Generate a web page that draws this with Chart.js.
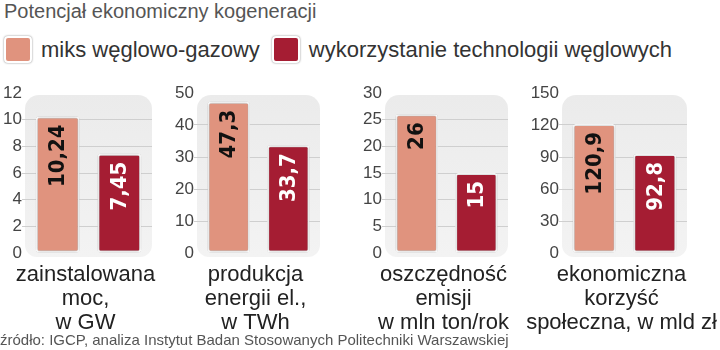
<!DOCTYPE html>
<html lang="pl">

<head>
    <meta charset="UTF-8">
    <title>Potencjał ekonomiczny kogeneracji</title>
    <style>
        body {
            margin: 0;
            padding: 0;
            width: 720px;
            height: 350px;
            overflow: hidden;
            position: relative;
            background: #fff;
            font-family: 'Liberation Sans', Arial, sans-serif;
        }

        .title {
            position: absolute;
            left: 4px;
            top: 0px;
            font-size: 20px;
            color: #555;
        }

        .legend {
            position: absolute;
            left: 4px;
            top: 36px;
            font-size: 22px;
            color: #333;
            display: flex;
            align-items: center;
        }

        .legend span.box {
            display: inline-block;
            width: 24px;
            height: 23px;
            border-radius: 4px;
            border: 2px solid #fff;
            box-shadow: 0 0 2px rgba(0, 0, 0, 0.5);
            margin-right: 9px;
        }

        .legend span.txt {
            margin-right: 12px;
        }

        .panel {
            position: absolute;
            top: 80px;
            height: 265px;
        }

        .source {
            position: absolute;
            left: 0;
            top: 331px;
            font-size: 15px;
            color: #555;
        }
    </style>
    <script src="https://cdn.jsdelivr.net/npm/chart.js"></script>
</head>

<body>
    <div class="title">Potencjał ekonomiczny kogeneracji</div>
    <div class="legend">
        <span class="box" style="background:#e0937e"></span><span class="txt">miks węglowo-gazowy</span>
        <span class="box" style="background:#a51d33"></span><span class="txt">wykorzystanie technologii węglowych</span>
    </div>

    <div class="panel" style="left:0px;width:165px"><canvas id="c0"></canvas></div>
    <div class="panel" style="left:167px;width:178px"><canvas id="c1"></canvas></div>
    <div class="panel" style="left:355px;width:175px"><canvas id="c2"></canvas></div>
    <div class="panel" style="left:527px;width:193px"><canvas id="c3"></canvas></div>

    <div class="source">źródło: IGCP, analiza Instytut Badan Stosowanych Politechniki Warszawskiej</div>

    <script>
        // data
        const seriesNames = ['miks węglowo-gazowy', 'wykorzystanie technologii węglowych'];
        const categories = [
            ['zainstalowana', 'moc,', 'w GW'],
            ['produkcja', 'energii el.,', 'w TWh'],
            ['oszczędność', 'emisji', 'w mln ton/rok'],
            ['ekonomiczna', 'korzyść', 'społeczna, w mld zł']
        ];
        const mixValues = [10.24, 47.3, 26, 120.9];
        const coalValues = [7.45, 33.7, 15, 92.8];
        const axisMax = [12, 50, 30, 150];
        const axisStep = [2, 10, 5, 30];

        const colors = ['#e0937e', '#a51d33'];
        const labelColors = ['#111', '#fff'];
        const axisWidths = [25, 30, 30, 35];
        const rightPads = [13, 25, 22, 33];

        const fmt = v => String(v).replace('.', ',');

        // rounded grey background behind each plot
        const panelBg = {
            id: 'panelBg',
            beforeDraw(chart) {
                const a = chart.chartArea;
                const ctx = chart.ctx;
                const top = a.top + 2, bottom = a.bottom + 4;
                const g = ctx.createLinearGradient(0, top, 0, bottom);
                g.addColorStop(0, '#ebebeb');
                g.addColorStop(1, '#f3f3f3');
                ctx.save();
                ctx.fillStyle = g;
                ctx.beginPath();
                ctx.roundRect(a.left, top, a.right - a.left, bottom - top, [14, 14, 12, 12]);
                ctx.fill();
                ctx.restore();
            }
        };

        // soft shadow around bars
        const barShadow = {
            id: 'barShadow',
            beforeDatasetsDraw(chart) {
                chart.ctx.save();
                chart.ctx.shadowColor = 'rgba(0,0,0,0.35)';
                chart.ctx.shadowBlur = 3;
            },
            afterDatasetsDraw(chart) {
                chart.ctx.restore();
            }
        };

        // rotated value labels and category labels
        const textLabels = {
            id: 'textLabels',
            afterDraw(chart) {
                const ctx = chart.ctx;
                ctx.save();
                chart.data.datasets.forEach((ds, i) => {
                    const bar = chart.getDatasetMeta(i).data[0];
                    ctx.save();
                    ctx.translate(bar.x + 1, bar.y + 8);
                    ctx.rotate(-Math.PI / 2);
                    ctx.font = 'bold 22px "DejaVu Sans Condensed", "DejaVu Sans", sans-serif';
                    ctx.fillStyle = labelColors[i];
                    ctx.textAlign = 'right';
                    ctx.textBaseline = 'middle';
                    ctx.fillText(fmt(ds.data[0]), 0, 0);
                    ctx.restore();
                });
                const a = chart.chartArea;
                const cx = (a.left + a.right) / 2 - 3;
                ctx.font = '22px "Liberation Sans", Arial, sans-serif';
                ctx.fillStyle = '#222';
                ctx.textAlign = 'center';
                ctx.textBaseline = 'middle';
                chart.data.labels[0].forEach((line, k) => {
                    ctx.fillText(line, cx, a.bottom + 22 + k * 24);
                });
                ctx.restore();
            }
        };

        categories.forEach((cat, i) => {
            const max = axisMax[i];
            new Chart(document.getElementById('c' + i), {
                type: 'bar',
                data: {
                    labels: [cat],
                    datasets: [
                        { label: seriesNames[0], data: [mixValues[i]] },
                        { label: seriesNames[1], data: [coalValues[i]] }
                    ].map((d, k) => Object.assign(d, {
                        backgroundColor: colors[k],
                        borderColor: '#fff',
                        borderWidth: 2,
                        borderRadius: 3,
                        borderSkipped: false,
                        categoryPercentage: 0.97,
                        barPercentage: 0.71
                    }))
                },
                options: {
                    responsive: true,
                    maintainAspectRatio: false,
                    animation: false,
                    layout: { padding: { top: 13, bottom: 92, left: 0, right: rightPads[i] } },
                    plugins: { legend: { display: false }, tooltip: { enabled: false } },
                    scales: {
                        x: { display: false },
                        y: {
                            min: 0,
                            max: max,
                            afterFit(scale) { scale.width = axisWidths[i]; },
                            ticks: {
                                stepSize: axisStep[i],
                                padding: 0,
                                color: '#444',
                                font: { family: '"Liberation Sans", Arial, sans-serif', size: 17 }
                            },
                            border: { display: false },
                            grid: {
                                tickLength: 3,
                                lineWidth: 1,
                                color: c => (c.tick.value === 0 || c.tick.value === max) ? 'rgba(0,0,0,0)' : '#cfcfcf'
                            }
                        }
                    }
                },
                plugins: [panelBg, barShadow, textLabels]
            });
        });
    </script>
</body>

</html>
